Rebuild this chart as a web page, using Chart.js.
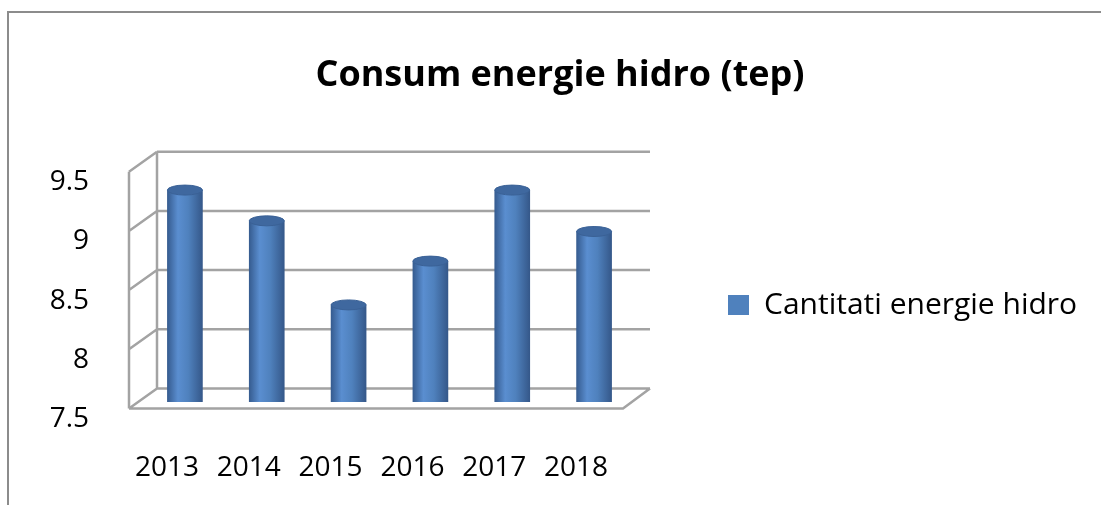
<!DOCTYPE html>
<html lang="ro">
<head>
  <meta charset="UTF-8">
  <title>Consum energie hidro (tep)</title>
  <style>
    html, body { margin: 0; padding: 0; background: #fff; overflow: hidden; }
    #wrap { position: absolute; left: 0; top: 0; width: 1101px; height: 505px; }
  </style>
  <script src="https://cdn.jsdelivr.net/npm/chart.js"></script>
</head>
<body>
  <div id="wrap"><canvas id="chart"></canvas></div>

  <script>
    // Data
    const years = ['2013', '2014', '2015', '2016', '2017', '2018'];
    const hydro = [9.29, 9.03, 8.32, 8.69, 9.29, 8.94];
    const seriesName = 'Cantitati energie hidro';
    const yTicks = [7.5, 8, 8.5, 9, 9.5];

    const FONT = "'Open Sans', 'DejaVu Sans', sans-serif";
    const blue = '#4f81bd';

    // work out legend padding so the plot area ends where the 3D floor does
    const plotLeft = 144, plotRight = 635, legendItemX = 728;
    const legendFont = 30, legendBox = 21;
    const mctx = document.createElement('canvas').getContext('2d');
    mctx.font = legendFont + 'px ' + FONT;
    const textW = mctx.measureText(seriesName).width;
    const legendPad = legendItemX - plotRight;
    const legendW = legendPad + legendBox + legendFont / 2 + textW + 10;
    const padRight = Math.max(0, 1101 - plotRight - legendW);
    const padLeft = padRight + 19;   // shifts the title centre a bit right, like the original

    // 3D walls: back wall is shifted up-right from the value plane, front edge down-left
    const backDx = 13, backDy = -13.5, frontDx = -15, frontDy = 6.5;

    const frame = {
      id: 'frame',
      beforeDraw(chart) {
        const { ctx } = chart;
        ctx.save();
        ctx.strokeStyle = '#8c8c8c';
        ctx.lineWidth = 2;
        ctx.beginPath();
        ctx.moveTo(8, 505); ctx.lineTo(8, 12); ctx.lineTo(1101, 12);
        ctx.stroke();
        ctx.restore();
      }
    };

    const walls = {
      id: 'walls',
      beforeDatasetsDraw(chart) {
        const { ctx, chartArea: a, scales: { y } } = chart;
        const bl = a.left + backDx, fl = a.left + frontDx;
        const br = a.right + 15, fr = a.right - 12;
        const yb = y.getPixelForValue(7.5), yt = y.getPixelForValue(9.5);
        ctx.save();
        ctx.strokeStyle = '#a3a3a3';
        ctx.lineWidth = 2.5;
        ctx.beginPath();
        yTicks.forEach(v => {
          const p = y.getPixelForValue(v);
          ctx.moveTo(bl, p + backDy); ctx.lineTo(br, p + backDy);
          ctx.moveTo(fl, p + frontDy); ctx.lineTo(bl, p + backDy);
        });
        ctx.moveTo(fl, yt + frontDy); ctx.lineTo(fl, yb + frontDy);
        ctx.moveTo(bl, yt + backDy); ctx.lineTo(bl, yb + backDy);
        ctx.moveTo(fl, yb + frontDy); ctx.lineTo(fr, yb + frontDy);
        ctx.lineTo(br, yb + backDy);
        ctx.stroke();
        ctx.restore();
      }
    };

    function cylGradient(ctx, x, w) {
      const g = ctx.createLinearGradient(x - w / 2, 0, x + w / 2, 0);
      g.addColorStop(0, '#365c90');
      g.addColorStop(0.3, '#5a8ed0');
      g.addColorStop(0.6, '#4f81bd');
      g.addColorStop(1, '#35588a');
      return g;
    }

    // cylinder caps on top of the bars
    const caps = {
      id: 'caps',
      afterDatasetsDraw(chart) {
        const { ctx } = chart;
        const meta = chart.getDatasetMeta(0);
        ctx.save();
        meta.data.forEach(bar => {
          const rx = bar.width / 2, ry = 5;
          ctx.fillStyle = cylGradient(ctx, bar.x, bar.width);
          ctx.beginPath();
          ctx.ellipse(bar.x, bar.base, rx, ry, 0, 0, Math.PI);
          ctx.fill();
          ctx.fillStyle = '#3f689f';
          ctx.strokeStyle = '#3a6196';
          ctx.lineWidth = 1;
          ctx.beginPath();
          ctx.ellipse(bar.x, bar.y, rx, ry, 0, 0, Math.PI * 2);
          ctx.fill();
          ctx.stroke();
        });
        ctx.restore();
      }
    };

    new Chart(document.getElementById('chart'), {
      type: 'bar',
      data: {
        labels: years,
        datasets: [{
          label: seriesName,
          data: hydro,
          barThickness: 35,
          backgroundColor: (c) => {
            const chart = c.chart;
            if (!chart.chartArea || c.dataIndex === undefined) return blue;
            const x = chart.scales.x.getPixelForValue(c.dataIndex);
            return cylGradient(chart.ctx, x, 35);
          }
        }]
      },
      options: {
        responsive: true,
        maintainAspectRatio: false,
        animation: false,
        layout: { padding: { left: padLeft, right: padRight, top: 0, bottom: 24 } },
        plugins: {
          title: {
            display: true,
            text: 'Consum energie hidro (tep)',
            color: '#000',
            font: { family: FONT, size: 36, weight: 'bold' },
            padding: { top: 54, bottom: 68 }
          },
          legend: {
            position: 'right',
            align: 'start',
            maxWidth: 1101,
            title: { display: true, text: ' ', font: { size: 10 }, padding: { top: 0, bottom: 185 } },
            labels: {
              color: '#000',
              padding: legendPad,
              boxWidth: legendBox,
              boxHeight: 20,
              font: { family: FONT, size: legendFont },
              generateLabels: () => [{
                text: seriesName, fillStyle: blue, strokeStyle: blue, fontColor: '#000',
                lineWidth: 0, datasetIndex: 0
              }]
            }
          },
          tooltip: { enabled: false }
        },
        scales: {
          x: {
            grid: { display: false },
            border: { display: false },
            afterFit: (s) => { s.height = 79; },
            ticks: {
              color: '#000',
              font: { family: FONT, size: 28 },
              padding: 41,
              labelOffset: -18,
              maxRotation: 0
            }
          },
          y: {
            min: 7.5,
            max: 9.5,
            grid: { display: false },
            border: { display: false },
            afterFit: (s) => { s.width = plotLeft - padLeft; },
            afterBuildTicks: (s) => { s.ticks = yTicks.map(v => ({ value: v })); },
            ticks: {
              color: '#000',
              font: { family: FONT, size: 28 },
              padding: 47,
              labelOffset: 17,
              callback: (v) => String(v)
            }
          }
        }
      },
      plugins: [frame, walls, caps]
    });
  </script>
</body>
</html>
